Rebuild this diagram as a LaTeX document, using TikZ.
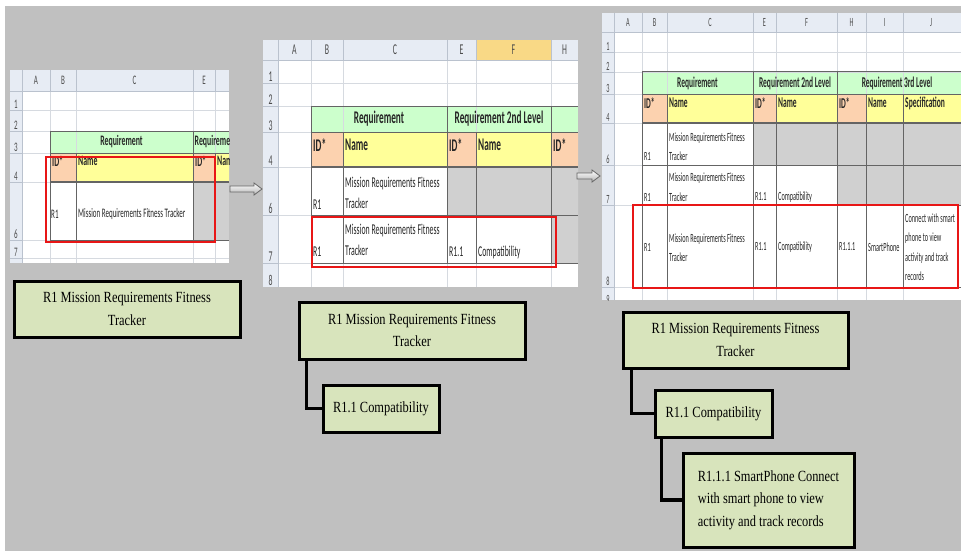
\documentclass[tikz,border=0pt]{standalone}
\usepackage{fontspec}
\newfontfamily\xlA[FakeStretch=0.54]{Carlito}
\newfontfamily\xlB[FakeStretch=0.52]{Carlito}
\newfontfamily\xlC[FakeStretch=0.5]{Carlito}
\newfontfamily\tnr[FakeStretch=0.8]{Liberation Serif}
\definecolor{bggrey}{RGB}{192,192,192}
\definecolor{xlhdr}{RGB}{231,236,244}
\definecolor{xlgrid}{RGB}{214,218,224}
\definecolor{xlhdln}{RGB}{186,194,206}
\definecolor{xltab}{RGB}{100,100,100}
\definecolor{xlgreen}{RGB}{204,255,204}
\definecolor{xlorange}{RGB}{252,210,175}
\definecolor{xlyellow}{RGB}{255,255,153}
\definecolor{xlgreycell}{RGB}{208,208,208}
\definecolor{xlsel}{RGB}{249,217,134}
\definecolor{markred}{RGB}{232,22,22}
\definecolor{boxgreen}{RGB}{216,228,188}

\tikzset{
  gridln/.style={xlgrid, line width=0.6pt},
  hdrln/.style={xlhdln, line width=0.6pt},
  tabln/.style={xltab, line width=1pt},
  colhd/.style={text=black!70, inner sep=0pt},
  rowhd/.style={text=black!70, inner sep=0pt, anchor=south},
  cell/.style={inner sep=0pt, anchor=west, align=left, text=black!85},
  redmark/.style={markred, line width=2.8pt},
  treebox/.style={draw=black, line width=3pt, fill=boxgreen, inner sep=0pt,
    font=\tnr\fontsize{15.5}{22.5}\selectfont, align=center},
  treeln/.style={line width=3.5pt, line join=miter},
  xarrow/.style={draw=black!60, line width=0.8pt, top color=white, bottom color=black!30}
}

\begin{document}
\begin{tikzpicture}[x=1pt,y=-1pt]
\useasboundingbox (0,0) rectangle (961,551);
\fill[white] (0,0) rectangle (961,551);
\fill[bggrey] (5,6) rectangle (961,551);

%% first sheet
\begin{scope}
  \clip (10,70) rectangle (229,263);
  \fill[white] (10,70) rectangle (229,263);
  \fill[xlhdr] (10,70) rectangle (229,91);
  \fill[xlhdr] (10,70) rectangle (22,263);
  \fill[xlgreen] (50,131) rectangle (229,153);
  \fill[xlorange] (50,153) rectangle (76,182) (193,153) rectangle (215,182);
  \fill[xlyellow] (76,153) rectangle (193,182) (215,153) rectangle (229,182);
  \fill[xlgreycell] (193,182) rectangle (229,240);
  \foreach \x in {50,76,193,215} {
    \draw[gridln] (\x,91) -- (\x,263);
    \draw[hdrln] (\x,70) -- (\x,91);
  }
  \foreach \y in {110,131,153,182,240,258} {
    \draw[gridln] (22,\y) -- (229,\y);
    \draw[hdrln] (10,\y) -- (22,\y);
  }
  \draw[hdrln] (10,91) -- (229,91);
  \draw[hdrln] (22,70) -- (22,263);
  % table
  \draw[tabln] (229,131) -- (50,131) -- (50,240) -- (229,240);
  \draw[tabln] (50,153) -- (229,153);
  \draw[tabln, line width=1.8pt] (50,182) -- (229,182);
  \draw[tabln] (193,131) -- (193,240);
  \foreach \x in {76,215} \draw[tabln] (\x,153) -- (\x,240);
  \foreach \c/\x in {A/36,B/63,C/134.5,E/204}
    \node[colhd, font=\xlA\fontsize{13}{13}\selectfont] (s1h\c) at (\x,80.5) {\c};
  \foreach \n/\y in {1/109,2/130,3/152,4/181,6/239,7/257}
    \node[rowhd, font=\xlA\fontsize{13}{13}\selectfont] (s1r\n) at (16,\y) {\n};
  \begin{scope}[every node/.style={cell, font=\xlA\fontsize{13}{15}\selectfont}]
    \node[font=\xlA\bfseries\fontsize{14.5}{15}\selectfont, anchor=center] (s1req) at (121.5,142) {Requirement};
    \node[font=\xlA\bfseries\fontsize{14.5}{15}\selectfont] (s1reqb) at (194.5,142) {Requirement 2nd Level};
    \node[font=\xlA\bfseries\fontsize{14.5}{15}\selectfont] (s1id) at (52,161) {ID*};
    \node[font=\xlA\bfseries\fontsize{14.5}{15}\selectfont] (s1name) at (78,161) {Name};
    \node[font=\xlA\bfseries\fontsize{14.5}{15}\selectfont] (s1idb) at (195,161) {ID*};
    \node[font=\xlA\bfseries\fontsize{14.5}{15}\selectfont] (s1nameb) at (217,161) {Name};
    \node (s1rid) at (51,214) {R1};
    \node (s1rname) at (78,214) {Mission Requirements Fitness Tracker};
  \end{scope}
\end{scope}
\draw[redmark] (46,157) rectangle (215,242);

%% second sheet
\begin{scope}
  \clip (263,40) rectangle (578,287);
  \fill[white] (263,40) rectangle (578,287);
  \fill[xlhdr] (263,40) rectangle (578,60);
  \fill[xlhdr] (263,40) rectangle (278,287);
  \fill[xlsel] (476,40) rectangle (551,60);
  \fill[xlgreen] (311,106) rectangle (578,132);
  \fill[xlorange] (311,132) rectangle (343,167) (447,132) rectangle (476,167) (551,132) rectangle (578,167);
  \fill[xlyellow] (343,132) rectangle (447,167) (476,132) rectangle (551,167);
  \fill[xlgreycell] (447,167) rectangle (578,215) (551,215) rectangle (578,263);
  \foreach \x in {311,343,447,476,551} {
    \draw[gridln] (\x,60) -- (\x,287);
    \draw[hdrln] (\x,40) -- (\x,60);
  }
  \foreach \y in {83,106,132,167,215,263} {
    \draw[gridln] (278,\y) -- (578,\y);
    \draw[hdrln] (263,\y) -- (278,\y);
  }
  \draw[hdrln] (263,60) -- (578,60);
  \draw[hdrln] (278,40) -- (278,287);
  % table
  \draw[tabln] (578,106) -- (311,106) -- (311,263) -- (578,263);
  \draw[tabln] (311,132) -- (578,132);
  \draw[tabln, line width=1.8pt] (311,167) -- (578,167);
  \draw[tabln] (311,215) -- (578,215);
  \foreach \x in {447,551} \draw[tabln] (\x,106) -- (\x,263);
  \foreach \x in {343,476} \draw[tabln] (\x,132) -- (\x,263);
  \foreach \c/\x in {A/294.5,B/327,C/395,E/461.5,F/513.5,H/564.5}
    \node[colhd, font=\xlB\fontsize{15}{15}\selectfont] (s2h\c) at (\x,50) {\c};
  \foreach \n/\y in {1/82,2/105,3/131,4/166,6/214,7/262,8/286}
    \node[rowhd, font=\xlB\fontsize{15}{15}\selectfont] (s2r\n) at (270.5,\y) {\n};
  \begin{scope}[every node/.style={cell, font=\xlB\fontsize{15}{21}\selectfont}]
    \node[font=\xlB\bfseries\fontsize{17.8}{18}\selectfont, anchor=center] (s2req) at (379,119) {Requirement};
    \node[font=\xlB\bfseries\fontsize{17.8}{18}\selectfont, anchor=center] (s2reqb) at (499,119) {Requirement 2nd Level};
    \node[font=\xlB\bfseries\fontsize{17.8}{18}\selectfont] (s2id) at (313,145) {ID*};
    \node[font=\xlB\bfseries\fontsize{17.8}{18}\selectfont] (s2name) at (345,145) {Name};
    \node[font=\xlB\bfseries\fontsize{17.8}{18}\selectfont] (s2idb) at (449,145) {ID*};
    \node[font=\xlB\bfseries\fontsize{17.8}{18}\selectfont] (s2nameb) at (478,145) {Name};
    \node[font=\xlB\bfseries\fontsize{17.8}{18}\selectfont] (s2idc) at (553,145) {ID*};
    \node (s2aid) at (313,205) {R1};
    \node (s2aname) at (345,192.5) {Mission Requirements Fitness\\Tracker};
    \node (s2bid) at (313,252) {R1};
    \node (s2bname) at (345,240) {Mission Requirements Fitness\\Tracker};
    \node (s2bsub) at (449,252) {R1.1};
    \node (s2bsubn) at (478,252) {Compatibility};
  \end{scope}
\end{scope}
\draw[redmark] (312,217) rectangle (556,267);

%% third sheet
\begin{scope}
  \clip (602,13) rectangle (961,300);
  \fill[white] (602,13) rectangle (961,300);
  \fill[xlhdr] (602,13) rectangle (961,32);
  \fill[xlhdr] (602,13) rectangle (614,300);
  \fill[xlgreen] (642,72) rectangle (961,94);
  \fill[xlorange] (642,94) rectangle (667,123) (753,94) rectangle (776,123) (837,94) rectangle (866,123);
  \fill[xlyellow] (667,94) rectangle (753,123) (776,94) rectangle (837,123) (866,94) rectangle (961,123);
  \fill[xlgreycell] (753,123) rectangle (961,165) (837,165) rectangle (961,205);
  \foreach \x in {642,667,753,776,837,866,903} {
    \draw[gridln] (\x,32) -- (\x,300);
    \draw[hdrln] (\x,13) -- (\x,32);
  }
  \foreach \y in {52,72,94,123,165,205,287} {
    \draw[gridln] (614,\y) -- (961,\y);
    \draw[hdrln] (602,\y) -- (614,\y);
  }
  \draw[hdrln] (602,32) -- (961,32);
  \draw[hdrln] (614,13) -- (614,300);
  % table
  \draw[tabln] (961,72) -- (642,72) -- (642,287) -- (961,287);
  \draw[tabln] (642,94) -- (961,94);
  \draw[tabln, line width=1.8pt] (642,123) -- (961,123);
  \foreach \y in {165,205} \draw[tabln] (642,\y) -- (961,\y);
  \foreach \x in {753,837} \draw[tabln] (\x,72) -- (\x,287);
  \foreach \x in {667,776,866,903} \draw[tabln] (\x,94) -- (\x,287);
  \foreach \c/\x in {A/628,B/654.5,C/710,E/764.5,F/806.5,H/851.5,I/884.5,J/931}
    \node[colhd, font=\xlC\fontsize{12.5}{13}\selectfont] (s3h\c) at (\x,22.5) {\c};
  \foreach \n/\y in {1/51,2/71,3/93,4/122,6/164,7/204,8/286,9/304}
    \node[rowhd, font=\xlC\fontsize{12.5}{13}\selectfont] (s3r\n) at (608,\y) {\n};
  \begin{scope}[every node/.style={cell, font=\xlC\fontsize{12.5}{19.5}\selectfont}]
    \node[font=\xlC\bfseries\fontsize{15}{15}\selectfont, anchor=center] (s3req) at (697.5,83) {Requirement};
    \node[font=\xlC\bfseries\fontsize{15}{15}\selectfont, anchor=center] (s3reqb) at (795,83) {Requirement 2nd Level};
    \node[font=\xlC\bfseries\fontsize{15}{15}\selectfont, anchor=center] (s3reqc) at (897,83) {Requirement 3rd Level};
    \node[font=\xlC\bfseries\fontsize{15}{15}\selectfont] (s3id) at (644,103) {ID*};
    \node[font=\xlC\bfseries\fontsize{15}{15}\selectfont] (s3name) at (669,103) {Name};
    \node[font=\xlC\bfseries\fontsize{15}{15}\selectfont] (s3idb) at (755,103) {ID*};
    \node[font=\xlC\bfseries\fontsize{15}{15}\selectfont] (s3nameb) at (778,103) {Name};
    \node[font=\xlC\bfseries\fontsize{15}{15}\selectfont] (s3idc) at (839,103) {ID*};
    \node[font=\xlC\bfseries\fontsize{15}{15}\selectfont] (s3namec) at (868,103) {Name};
    \node[font=\xlC\bfseries\fontsize{15}{15}\selectfont] (s3spec) at (905,103) {Specification};
    \node (s3aid) at (644,156) {R1};
    \node (s3aname) at (669,146.5) {Mission Requirements Fitness\\Tracker};
    \node (s3bid) at (644,197) {R1};
    \node (s3bname) at (669,187) {Mission Requirements Fitness\\Tracker};
    \node (s3bsub) at (755,197) {R1.1};
    \node (s3bsubn) at (778,197) {Compatibility};
    \node (s3cid) at (644,247) {R1};
    \node (s3cname) at (669,247.5) {Mission Requirements Fitness\\Tracker};
    \node (s3csub) at (755,247) {R1.1};
    \node (s3csubn) at (778,247) {Compatibility};
    \node (s3cleaf) at (839,247) {R1.1.1};
    \node (s3cleafn) at (868,247) {SmartPhone};
    \node (s3cspec) at (905,247) {Connect with smart\\phone to view\\activity and track\\records};
  \end{scope}
\end{scope}
\draw[redmark] (633,205) rectangle (958,288);

%% hollow arrows between sheets
\draw[xarrow] (230,186) -- (254,186) -- (254,183) -- (262,189) -- (254,195) -- (254,192) -- (230,192) -- cycle;
\draw[xarrow] (577,173) -- (592,173) -- (592,170) -- (600,176) -- (592,182) -- (592,179) -- (577,179) -- cycle;

%% requirement trees
\node[treebox, minimum width=226pt, minimum height=56pt] (t1a) at (127,309) {R1 Mission Requirements Fitness\\Tracker};

\node[treebox, minimum width=226pt, minimum height=57pt] (t2a) at (412,330.5) {R1 Mission Requirements Fitness\\Tracker};
\node[treebox, minimum width=116pt, minimum height=47pt] (t2b) at (381,408.5) {R1.1 Compatibility};
\draw[treeln] ([xshift=9pt]t2a.south west) |- (t2b.west);

\node[treebox, minimum width=225pt, minimum height=56pt] (t3a) at (735.5,340) {R1 Mission Requirements Fitness\\Tracker};
\node[treebox, minimum width=117pt, minimum height=47pt] (t3b) at (713.5,413.5) {R1.1 Compatibility};
\node[treebox, minimum width=171pt, minimum height=94pt, align=left] (t3c) at (768.5,500) {R1.1.1 SmartPhone Connect\\with smart phone to view\\activity and track records};
\draw[treeln] ([xshift=10pt]t3a.south west) |- (t3b.west);
\draw[treeln] ([xshift=8pt]t3b.south west) |- (t3c.west);
\end{tikzpicture}
\end{document}
